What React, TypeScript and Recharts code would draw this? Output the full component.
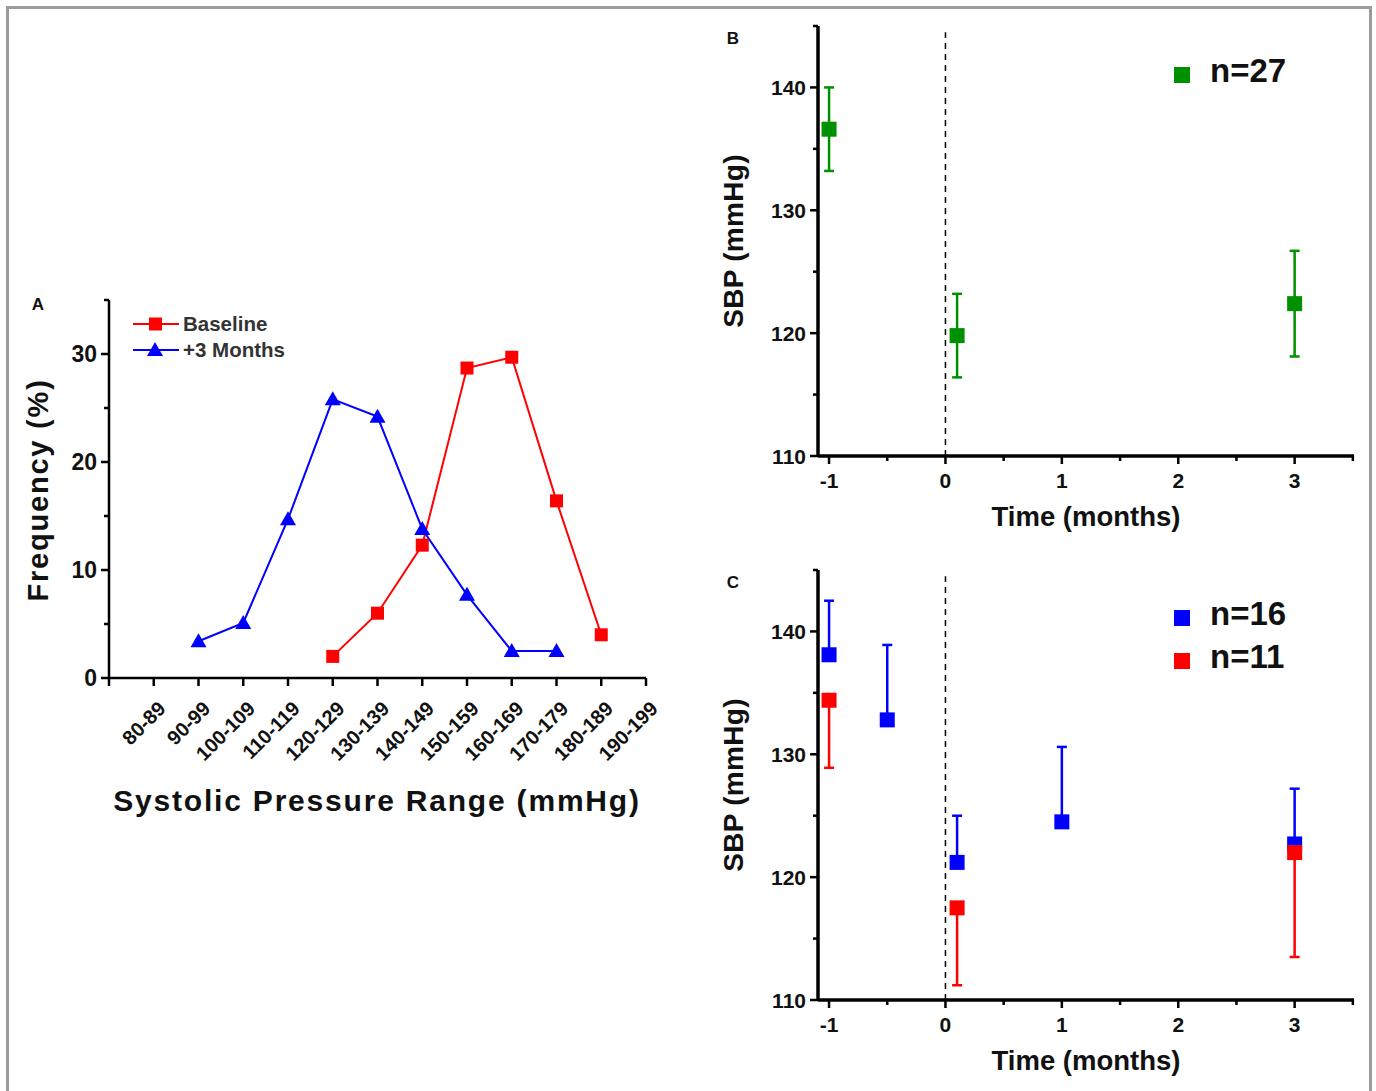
import React from "react";
import {
  LineChart,
  Line,
  ScatterChart,
  Scatter,
  XAxis,
  YAxis,
  ErrorBar,
  ReferenceLine,
  Legend,
  Label,
} from "recharts";

const FONT = "Arial, 'Liberation Sans', Helvetica, sans-serif";
const INK = "#111";
const RED = "#ff0000";
const BLUE = "#0000ff";
const GREEN = "#009100";

// Panel A - distribution of systolic pressure (% of patients per range)
const ranges = [
  "80-89", "90-99", "100-109", "110-119", "120-129", "130-139",
  "140-149", "150-159", "160-169", "170-179", "180-189", "190-199",
];
const baselineFreq = [null, null, null, null, 2.0, 6.0, 12.3, 28.7, 29.7, 16.4, 4.0, null];
const plus3Freq = [null, 3.4, 5.1, 14.7, 25.8, 24.2, 13.8, 7.7, 2.5, 2.5, null, null];
const freqTicks = [0, 5, 10, 15, 20, 25, 30, 35];
const rangeTicks = [0, 1, 2, 3, 4, 5, 6, 7, 8, 9, 10, 11, 12];

// Panel B - all patients (mean +/- SEM)
const timeB = [-1, 0.1, 3];
const sbpB = [136.6, 119.8, 122.4];
const semB = [3.4, 3.4, 4.3];

// Panel C - split groups, one-sided error bars
const time16 = [-1, -0.5, 0.1, 1, 3];
const sbp16 = [138.1, 132.8, 121.2, 124.5, 122.7];
const up16 = [4.4, 6.1, 3.8, 6.1, 4.5];
const time11 = [-1, 0.1, 3];
const sbp11 = [134.4, 117.5, 122.0];
const down11 = [5.5, 6.3, 8.5];

const sbpTicks = [110, 115, 120, 125, 130, 135, 140, 145];
const timeTicks = [-1, -0.5, 0, 0.5, 1, 1.5, 2, 2.5, 3, 3.5];

const tableA = ranges.map((r, i) => ({
  pos: i + 1,
  range: r,
  baseline: baselineFreq[i],
  plus3: plus3Freq[i],
}));
const dataB = timeB.map((t, i) => ({ x: t, y: sbpB[i], err: semB[i] }));
const data16 = time16.map((t, i) => ({ x: t, y: sbp16[i], err: [0, up16[i]] }));
const data11 = time11.map((t, i) => ({ x: t, y: sbp11[i], err: [down11[i], 0] }));

const txt = { fontFamily: FONT, fontWeight: "bold" as const, fill: INK };

function makeLeftTick(fontSize: number) {
  return function LeftTick({ x, y, payload }: any) {
    const v = payload.value;
    const major = v % 10 === 0;
    return (
      <g>
        <line x1={x - (major ? 8 : 5)} x2={x} y1={y} y2={y} stroke="#000" strokeWidth={2.5} />
        {major && (
          <text x={x - 12} y={y} textAnchor="end" dominantBaseline="central" fontSize={fontSize} {...txt}>
            {v}
          </text>
        )}
      </g>
    );
  };
}

function RangeTick({ x, y, payload }: any) {
  const label = ranges[payload.value - 1];
  const ax = x + 13;
  const ay = y + 32;
  return (
    <g>
      <line x1={x} x2={x} y1={y} y2={y + 8} stroke="#000" strokeWidth={2.5} />
      {label && (
        <text x={ax} y={ay} textAnchor="end" transform={`rotate(-45 ${ax} ${ay})`} fontSize={20} {...txt}>
          {label}
        </text>
      )}
    </g>
  );
}

function TimeTick({ x, y, payload }: any) {
  const v = payload.value;
  const major = Number.isInteger(v);
  return (
    <g>
      <line x1={x} x2={x} y1={y} y2={y + (major ? 8 : 5)} stroke="#000" strokeWidth={2.5} />
      {major && (
        <text x={x} y={y + 24} textAnchor="middle" dominantBaseline="central" fontSize={21} {...txt}>
          {v}
        </text>
      )}
    </g>
  );
}

// points with no value come through with cy == null; skip them
const square = (size: number, color: string) => (p: any) => {
  if (p.cx == null || p.cy == null) return <g key={p.key} />;
  return <rect key={p.key} x={p.cx - size / 2} y={p.cy - size / 2} width={size} height={size} fill={color} />;
};

const triangle = (color: string) => (p: any) => {
  if (p.cx == null || p.cy == null) return <g key={p.key} />;
  return <path key={p.key} d={`M${p.cx},${p.cy - 8} L${p.cx + 8},${p.cy + 6} L${p.cx - 8},${p.cy + 6} Z`} fill={color} />;
};

function Titles({ letter, lx, ly, ytitle, yx, yy, size, spacing }: any) {
  return (
    <g>
      <text x={lx} y={ly} textAnchor="middle" dominantBaseline="central" fontSize={17} {...txt}>
        {letter}
      </text>
      <text
        transform={`translate(${yx},${yy}) rotate(-90)`}
        textAnchor="middle"
        dominantBaseline="central"
        fontSize={size}
        letterSpacing={spacing}
        {...txt}
      >
        {ytitle}
      </text>
    </g>
  );
}

function KeyA() {
  const rows = [
    { name: "Baseline", color: RED, tri: false },
    { name: "+3 Months", color: BLUE, tri: true },
  ];
  return (
    <div style={{ fontFamily: FONT, fontWeight: "bold", fontSize: 20.5, color: "#333" }}>
      {rows.map((r) => (
        <div key={r.name} style={{ display: "flex", alignItems: "center", height: 26 }}>
          <svg width={46} height={20} style={{ display: "block" }}>
            <line x1={0} x2={46} y1={10} y2={10} stroke={r.color} strokeWidth={2} />
            {r.tri ? (
              <path d="M22,2 L30,16 L14,16 Z" fill={r.color} />
            ) : (
              <rect x={16} y={3.5} width={13} height={13} fill={r.color} />
            )}
          </svg>
          <span style={{ marginLeft: 4 }}>{r.name}</span>
        </div>
      ))}
    </div>
  );
}

function KeyN({ rows }: { rows: { label: string; color: string }[] }) {
  return (
    <div style={{ fontFamily: FONT, fontWeight: "bold", fontSize: 33, color: INK }}>
      {rows.map((r) => (
        <div key={r.label} style={{ display: "flex", alignItems: "center", height: 43 }}>
          <div style={{ width: 16, height: 16, background: r.color, position: "relative", top: 4 }} />
          <span style={{ marginLeft: 20, lineHeight: "43px" }}>{r.label}</span>
        </div>
      ))}
    </div>
  );
}

function PanelA() {
  return (
    <LineChart width={700} height={560} data={tableA} margin={{ top: 30, right: 54, left: 29, bottom: 12 }}>
      <XAxis
        dataKey="pos"
        type="number"
        domain={[0, 12]}
        ticks={rangeTicks}
        interval={0}
        height={140}
        tickSize={0}
        tickMargin={0}
        tickLine={false}
        tick={<RangeTick />}
        axisLine={{ stroke: "#000", strokeWidth: 2.5 }}
      >
        <Label
          content={() => (
            <text
              x={377}
              y={530}
              textAnchor="middle"
              dominantBaseline="central"
              fontSize={30}
              letterSpacing={1.8}
              {...txt}
            >
              Systolic Pressure Range (mmHg)
            </text>
          )}
        />
      </XAxis>
      <YAxis
        type="number"
        domain={[0, 35]}
        ticks={freqTicks}
        interval={0}
        width={80}
        tickSize={0}
        tickMargin={0}
        tickLine={false}
        tick={makeLeftTick(23)}
        axisLine={{ stroke: "#000", strokeWidth: 2.5 }}
      >
        <Label
          content={() => (
            <Titles letter="A" lx={38} ly={34} ytitle="Frequency (%)" yx={38} yy={220} size={29} spacing={1.8} />
          )}
        />
      </YAxis>
      <Legend
        layout="vertical"
        align="center"
        verticalAlign="middle"
        content={() => <KeyA />}
        wrapperStyle={{ left: 133, top: 41, width: 200 }}
      />
      <Line
        dataKey="plus3"
        stroke={BLUE}
        strokeWidth={2}
        dot={triangle(BLUE)}
        activeDot={false}
        isAnimationActive={false}
      />
      <Line
        dataKey="baseline"
        stroke={RED}
        strokeWidth={2}
        dot={square(13, RED)}
        activeDot={false}
        isAnimationActive={false}
      />
    </LineChart>
  );
}

function TimeChart({ letter, top, children, keyRows, keyTop }: any) {
  return (
    <ScatterChart
      width={676}
      height={545}
      margin={{ top, right: 22, left: 18, bottom: 8 }}
    >
      <XAxis
        dataKey="x"
        type="number"
        domain={[-1.095, 3.51]}
        ticks={timeTicks}
        interval={0}
        height={537 - top - 430}
        tickSize={0}
        tickMargin={0}
        tickLine={false}
        tick={<TimeTick />}
        axisLine={{ stroke: "#000", strokeWidth: 3.5 }}
      >
        <Label
          content={() => (
            <text x={386} y={top + 490} textAnchor="middle" dominantBaseline="central" fontSize={27.5} {...txt}>
              Time (months)
            </text>
          )}
        />
      </XAxis>
      <YAxis
        dataKey="y"
        type="number"
        domain={[110, 145]}
        ticks={sbpTicks}
        interval={0}
        width={100}
        tickSize={0}
        tickMargin={0}
        tickLine={false}
        tick={makeLeftTick(21)}
        axisLine={{ stroke: "#000", strokeWidth: 3.5 }}
      >
        <Label
          content={() => (
            <Titles letter={letter} lx={33} ly={top + 12} ytitle="SBP (mmHg)" yx={33} yy={top + 215} size={28} spacing={0.3} />
          )}
        />
      </YAxis>
      <ReferenceLine
        segment={[{ x: 0, y: 110 }, { x: 0, y: 144.5 }]}
        stroke="#000"
        strokeWidth={1.5}
        strokeDasharray="6 5"
      />
      <Legend
        layout="vertical"
        align="center"
        verticalAlign="middle"
        content={() => <KeyN rows={keyRows} />}
        wrapperStyle={{ left: 474, top: keyTop, width: 180 }}
      />
      {children}
    </ScatterChart>
  );
}

export default function App() {
  return (
    <div style={{ position: "absolute", left: 0, top: 0, width: 1376, height: 1091, background: "#fff", overflow: "hidden" }}>
      <div
        style={{
          position: "absolute",
          left: 6,
          top: 6,
          width: 1360,
          height: 1100,
          border: "3px solid #9c9c9c",
        }}
      />
      <div style={{ position: "absolute", left: 0, top: 270 }}>
        <PanelA />
      </div>
      <div style={{ position: "absolute", left: 700, top: 0 }}>
        <TimeChart letter="B" top={26} keyRows={[{ label: "n=27", color: GREEN }]} keyTop={49}>
          <Scatter data={dataB} shape={square(15, GREEN)} isAnimationActive={false}>
            <ErrorBar dataKey="err" direction="y" width={5} stroke={GREEN} strokeWidth={2.5} isAnimationActive={false} />
          </Scatter>
        </TimeChart>
      </div>
      <div style={{ position: "absolute", left: 700, top: 545 }}>
        <TimeChart
          letter="C"
          top={25}
          keyRows={[
            { label: "n=16", color: BLUE },
            { label: "n=11", color: RED },
          ]}
          keyTop={47}
        >
          <Scatter data={data16} shape={square(15, BLUE)} isAnimationActive={false}>
            <ErrorBar dataKey="err" direction="y" width={5} stroke={BLUE} strokeWidth={2.5} isAnimationActive={false} />
          </Scatter>
          <Scatter data={data11} shape={square(15, RED)} isAnimationActive={false}>
            <ErrorBar dataKey="err" direction="y" width={5} stroke={RED} strokeWidth={2.5} isAnimationActive={false} />
          </Scatter>
        </TimeChart>
      </div>
    </div>
  );
}
